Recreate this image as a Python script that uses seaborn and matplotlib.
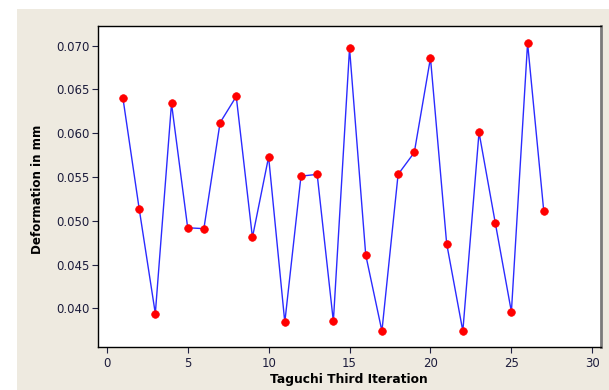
import matplotlib
matplotlib.use("Agg")
import matplotlib.pyplot as plt
import seaborn as sns
import pandas as pd
from matplotlib.patches import Rectangle

iterations = list(range(1, 28))
deformation = [0.0640, 0.0514, 0.0394, 0.0634, 0.0492, 0.0491, 0.0612, 0.0642, 0.0481,
               0.0573, 0.0384, 0.0551, 0.0553, 0.0385, 0.0697, 0.0461, 0.0374, 0.0553,
               0.0578, 0.0686, 0.0474, 0.0374, 0.0601, 0.0498, 0.0396, 0.0703, 0.0511]
x_ticks = [0, 5, 10, 15, 20, 25, 30]
y_ticks = [0.040, 0.045, 0.050, 0.055, 0.060, 0.065, 0.070]

df = pd.DataFrame({"Iteration": iterations, "Deformation": deformation})

sns.set_style("ticks")
plt.rcParams['font.family'] = ['DejaVu Sans']

fig = plt.figure(figsize=(6.09, 3.90), dpi=100, facecolor="white")
fig.patches.append(Rectangle((17/609, 0), 1 - 17/609, (390 - 9)/390,
                             transform=fig.transFigure, facecolor="#EEEAE0",
                             edgecolor="none", zorder=-10))
ax = fig.add_axes([97.7/609, 1 - 347/390, (600.9 - 97.7)/609, (347 - 26)/390])
ax.set_zorder(5)
ax.set_facecolor("white")

sns.lineplot(data=df, x="Iteration", y="Deformation", ax=ax, color="#2b2bff",
             linewidth=1.0, marker="o", markersize=5.5, markerfacecolor="#ff0000",
             markeredgecolor="#ff0000", markeredgewidth=0.5, zorder=3)

ax.set_xlim(-0.56, 30.53)
ax.set_ylim(0.03558, 0.07225)
ax.set_xticks(x_ticks)
ax.set_yticks(y_ticks)
ax.set_xticklabels([str(v) for v in x_ticks])
ax.set_yticklabels([f"{v:.3f}" for v in y_ticks])
ax.tick_params(axis="both", labelsize=8.5, colors="#222244", length=4.5, width=0.8,
               direction="out")
ax.tick_params(axis="x", pad=3)
ax.tick_params(axis="y", pad=1.5)
for lab in ax.get_xticklabels() + ax.get_yticklabels():
    lab.set_color("#1c1c3c")

for side in ["left", "bottom", "top"]:
    ax.spines[side].set_color("black")
    ax.spines[side].set_linewidth(1.0)
ax.spines["right"].set_color("#7a7a7a")
ax.spines["right"].set_linewidth(2.0)

ax.set_xlabel("Taguchi Third Iteration", fontsize=8.8, fontweight="bold", color="black")
ax.set_ylabel("Deformation in mm", fontsize=8.6, fontweight="bold", color="black")
ax.xaxis.set_label_coords(0.5, -0.081)
ax.yaxis.set_label_coords(-0.107, 0.49)

fig.savefig("out.png", dpi=100, facecolor=fig.get_facecolor())
